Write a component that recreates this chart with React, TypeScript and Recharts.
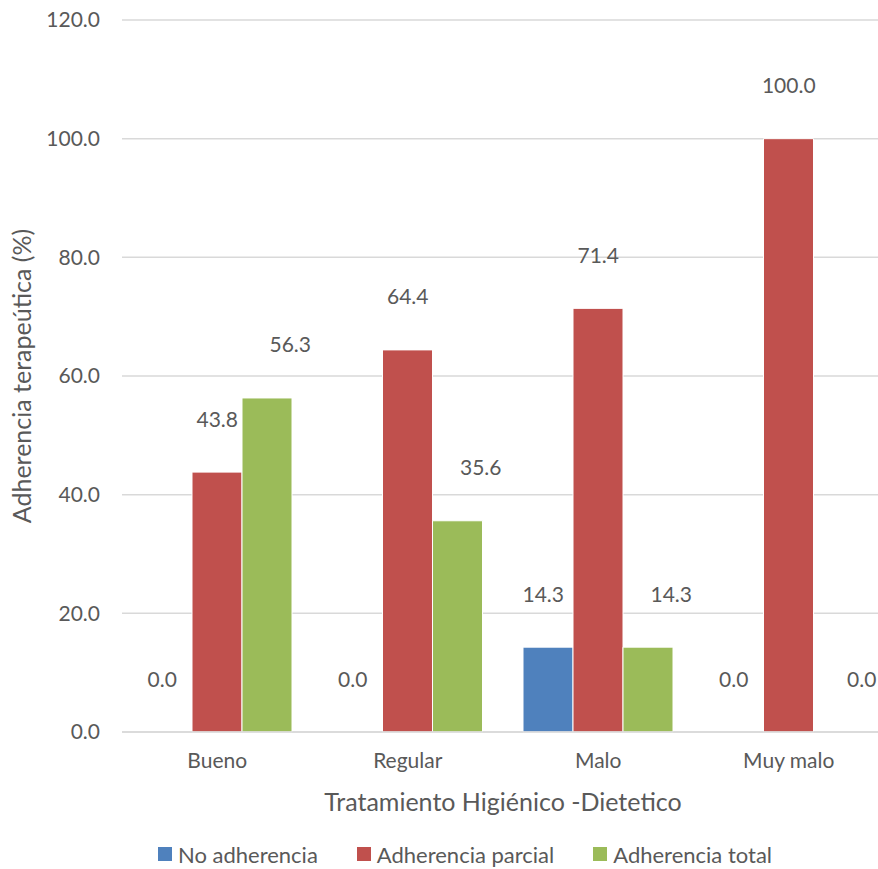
import React from "react";
import {
  BarChart,
  Bar,
  XAxis,
  YAxis,
  CartesianGrid,
  Legend,
  Label,
  ReferenceDot,
} from "recharts";

const categories = ["Bueno", "Regular", "Malo", "Muy malo"];
const noAdherencia = [0.0, 0.0, 14.3, 0.0];
const adherenciaParcial = [43.8, 64.4, 71.4, 100.0];
const adherenciaTotal = [56.3, 35.6, 14.3, 0.0];
const yTicks = [0, 20, 40, 60, 80, 100, 120];

const BAR_SIZE = 50;

const series = [
  { key: "no", name: "No adherencia", color: "#4f81bd", values: noAdherencia, labelDx: -5 },
  { key: "parcial", name: "Adherencia parcial", color: "#c0504d", values: adherenciaParcial, labelDx: 0 },
  { key: "total", name: "Adherencia total", color: "#9bbb59", values: adherenciaTotal, labelDx: 23 },
];

const data = categories.map((name, i) => ({
  name,
  no: noAdherencia[i],
  parcial: adherenciaParcial[i],
  total: adherenciaTotal[i],
}));

const FONT = "Lato, 'Open Sans', sans-serif";
const TEXT = "#595959";
const Y_MAX = yTicks[yTicks.length - 1];

// Value label placed above the bar slot of a series inside its category group.
const makeValueLabel = (text: string, dx: number) => (props: any) => {
  const vb = props.viewBox || {};
  const cx = Number(vb.x) + Number(vb.width || 0) / 2;
  const cy = Number(vb.y) + Number(vb.height || 0) / 2;
  return (
    <text
      x={cx + dx}
      y={cy - 54}
      textAnchor="middle"
      dominantBaseline="central"
      fill={TEXT}
      fontSize={21}
      fontFamily={FONT}
    >
      {text}
    </text>
  );
};

const NoShape = () => <g />;

const LegendContent = () => (
  <div
    style={{
      display: "flex",
      justifyContent: "center",
      alignItems: "center",
      height: 40,
      paddingTop: 10,
      paddingLeft: 46,
      boxSizing: "border-box",
      fontFamily: FONT,
      fontSize: 22,
      color: TEXT,
    }}
  >
    {series.map((s, i) => (
      <div
        key={s.key}
        style={{ display: "flex", alignItems: "center", marginLeft: i === 0 ? 0 : 39 }}
      >
        <span
          style={{ width: 14, height: 14, background: s.color, display: "inline-block", marginRight: 6 }}
        />
        <span>{s.name}</span>
      </div>
    ))}
  </div>
);

export default function App() {
  return (
    <div style={{ position: "absolute", left: 0, top: 0, background: "#fff" }}>
      <BarChart
        width={878}
        height={869}
        data={data}
        margin={{ top: 20, right: -6, left: 0, bottom: 0 }}
        barGap={0}
        barSize={BAR_SIZE}
      >
        <CartesianGrid vertical={false} stroke="#d9d9d9" strokeWidth={1.5} />
        <XAxis
          dataKey="name"
          height={97}
          tickLine={false}
          axisLine={{ stroke: "#d9d9d9", strokeWidth: 1.5 }}
          tickSize={0}
          tickMargin={21}
          tick={{ fill: TEXT, fontSize: 21, fontFamily: FONT }}
        >
          <Label
            value="Tratamiento Higiénico -Dietetico"
            position="insideBottom"
            offset={18}
            fill={TEXT}
            fontSize={25}
            fontFamily={FONT}
          />
        </XAxis>
        <YAxis
          width={122}
          domain={[0, Y_MAX]}
          ticks={yTicks}
          tickFormatter={(v: number) => v.toFixed(1)}
          axisLine={false}
          tickLine={false}
          tickSize={0}
          tickMargin={22}
          tick={{ fill: TEXT, fontSize: 21, fontFamily: FONT }}
        >
          <Label
            value="Adherencia terapeútica (%)"
            angle={-90}
            position="insideLeft"
            offset={22}
            style={{ textAnchor: "middle" }}
            fill={TEXT}
            fontSize={25}
            fontFamily={FONT}
          />
        </YAxis>
        <Legend verticalAlign="bottom" align="center" height={40} content={<LegendContent />} />
        {series.map((s) => (
          <Bar
            key={s.key}
            dataKey={s.key}
            name={s.name}
            fill={s.color}
            stroke="#fff"
            strokeWidth={1}
            isAnimationActive={false}
          />
        ))}
        {series.flatMap((s, si) =>
          categories.map((cat, ci) => (
            <ReferenceDot
              key={`${s.key}-${cat}`}
              x={cat}
              y={s.values[ci]}
              r={0}
              shape={NoShape}
              label={makeValueLabel(
                s.values[ci].toFixed(1),
                (si - 1) * BAR_SIZE + s.labelDx
              )}
            />
          ))
        )}
      </BarChart>
    </div>
  );
}
